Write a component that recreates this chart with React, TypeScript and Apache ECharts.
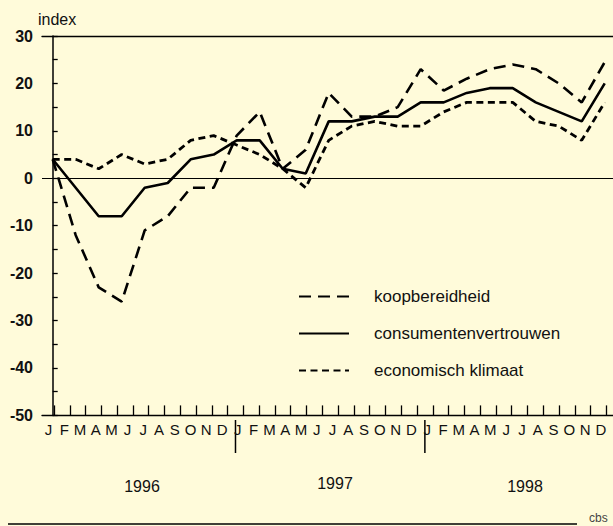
import React, { useEffect, useRef } from "react";
import * as echarts from "echarts";

// Month tick labels and years
const months = ["J", "F", "M", "A", "M", "J", "J", "A", "S", "O", "N", "D"];
const years = ["1996", "1997", "1998"];

// Series values (25 plotted points)
const koopbereidheid = [4, -12, -23, -26, -11, -8, -2, -2, 9, 14, 2, 6, 18, 13, 13, 15, 23, 18.5, 21, 23, 24, 23, 20, 16, 24.5];
const consumentenvertrouwen = [4, -2, -8, -8, -2, -1, 4, 5, 8, 8, 2, 1, 12, 12, 13, 13, 16, 16, 18, 19, 19, 16, 14, 12, 20];
const economischKlimaat = [4, 4, 2, 5, 3, 4, 8, 9, 7, 5, 2, -2, 8, 11, 12, 11, 11, 14, 16, 16, 16, 12, 11, 8, 16];

const seriesNames = ["koopbereidheid", "consumentenvertrouwen", "economisch klimaat"];

const FONT = "'Liberation Sans', Arial, Helvetica, sans-serif";
const BG = "#FFFBDA";

export default function App() {
  const ref = useRef<HTMLDivElement>(null);

  useEffect(() => {
    if (!ref.current) return;
    const chart = echarts.init(ref.current, undefined, { renderer: "svg" });
    const nMonths = months.length * years.length;
    const monthTicks = Array.from({ length: nMonths }, (_, i) => i);
    const monthLabelPos = monthTicks.map((m) => m - 0.35);
    const toPairs = (arr: number[]) => arr.map((v, i) => [i, v]);

    const option: any = {
      animation: false,
      backgroundColor: BG,
      textStyle: { fontFamily: FONT },
      grid: {
        left: 42,
        top: 36,
        right: 0,
        height: 379.4,
        containLabel: false,
        outerBoundsMode: "none",
      },
      legend: {
        orient: "vertical",
        left: 293,
        top: 283,
        itemWidth: 50,
        itemHeight: 20,
        itemGap: 20,
        selectedMode: false,
        itemStyle: { opacity: 0, borderWidth: 0 },
        textStyle: { fontSize: 17, color: "#111", fontFamily: FONT, padding: [0, 0, 0, 20] },
        data: seriesNames,
      },
      xAxis: [
        {
          type: "value",
          position: "top",
          min: -0.465,
          max: 24.36,
          axisLine: { show: true, onZero: false, lineStyle: { color: "#000", width: 1.4 } },
          axisTick: { show: false },
          axisLabel: { show: false },
          splitLine: { show: false },
        },
        {
          type: "value",
          position: "bottom",
          min: -0.76,
          max: 35.42,
          axisLine: { show: true, onZero: false, lineStyle: { color: "#000", width: 1.4 } },
          axisTick: {
            show: true,
            inside: true,
            length: 10,
            customValues: monthTicks,
            lineStyle: { color: "#000", width: 1.3 },
          },
          axisLabel: {
            show: true,
            customValues: monthLabelPos,
            margin: 7,
            fontSize: 15,
            color: "#111",
            fontFamily: FONT,
            formatter: (v: number) => months[((Math.round(v) % 12) + 12) % 12],
          },
          splitLine: { show: false },
        },
      ],
      yAxis: {
        type: "value",
        min: -50,
        max: 30,
        interval: 10,
        axisLine: { show: true, lineStyle: { color: "#000", width: 1.5 } },
        axisTick: { show: true, inside: true, length: 5, lineStyle: { color: "#000", width: 1.3 } },
        minorTick: { show: true, splitNumber: 2, length: 5, lineStyle: { color: "#000", width: 1.3 } },
        axisLabel: { fontSize: 16, fontWeight: "bold", color: "#111", margin: 9, fontFamily: FONT },
        splitLine: { show: false },
      },
      series: [
        {
          name: seriesNames[0],
          type: "line",
          xAxisIndex: 0,
          symbol: "none",
          data: toPairs(koopbereidheid),
          lineStyle: { color: "#000", width: 2.6, type: [12, 7] },
          itemStyle: { color: "#000" },
          markLine: {
            silent: true,
            symbol: ["none", "none"],
            label: { show: false },
            lineStyle: { color: "#000", width: 1.2, type: "solid" },
            data: [{ yAxis: 0 }],
          },
        },
        {
          name: seriesNames[1],
          type: "line",
          xAxisIndex: 0,
          symbol: "none",
          data: toPairs(consumentenvertrouwen),
          lineStyle: { color: "#000", width: 2.6, type: "solid" },
          itemStyle: { color: "#000" },
        },
        {
          name: seriesNames[2],
          type: "line",
          xAxisIndex: 0,
          symbol: "none",
          data: toPairs(economischKlimaat),
          lineStyle: { color: "#000", width: 2.8, type: [7, 4.5] },
          itemStyle: { color: "#000" },
        },
      ],
    };
    chart.setOption(option);

    const sepX = [11.5, 23.5].map((m) => chart.convertToPixel({ xAxisIndex: 1 }, m) as number);
    const yearX = [142, 335, 525];
    const yearY = [486, 483, 486];

    chart.setOption({
      graphic: [
        {
          type: "text",
          left: 38,
          top: 11,
          style: { text: "index", fontSize: 16, fill: "#111", fontFamily: FONT },
        },
        ...sepX.map((x) => ({
          type: "line",
          shape: { x1: x, y1: 420, x2: x, y2: 453 },
          style: { stroke: "#000", lineWidth: 1.5 },
        })),
        ...years.map((y, i) => ({
          type: "text",
          x: yearX[i],
          y: yearY[i],
          style: {
            text: y,
            fontSize: 16,
            fill: "#111",
            fontFamily: FONT,
            textAlign: "center",
            textVerticalAlign: "middle",
          },
        })),
        {
          type: "line",
          shape: { x1: 8, y1: 524, x2: 577, y2: 524 },
          style: { stroke: "#000", lineWidth: 1.4 },
        },
        {
          type: "text",
          x: 589,
          y: 512,
          style: { text: "cbs", fontSize: 12, fill: "#444", fontFamily: FONT },
        },
      ],
    });

    return () => chart.dispose();
  }, []);

  return (
    <div
      ref={ref}
      style={{ position: "fixed", left: 0, top: 0, width: 613, height: 526, background: BG }}
    />
  );
}
